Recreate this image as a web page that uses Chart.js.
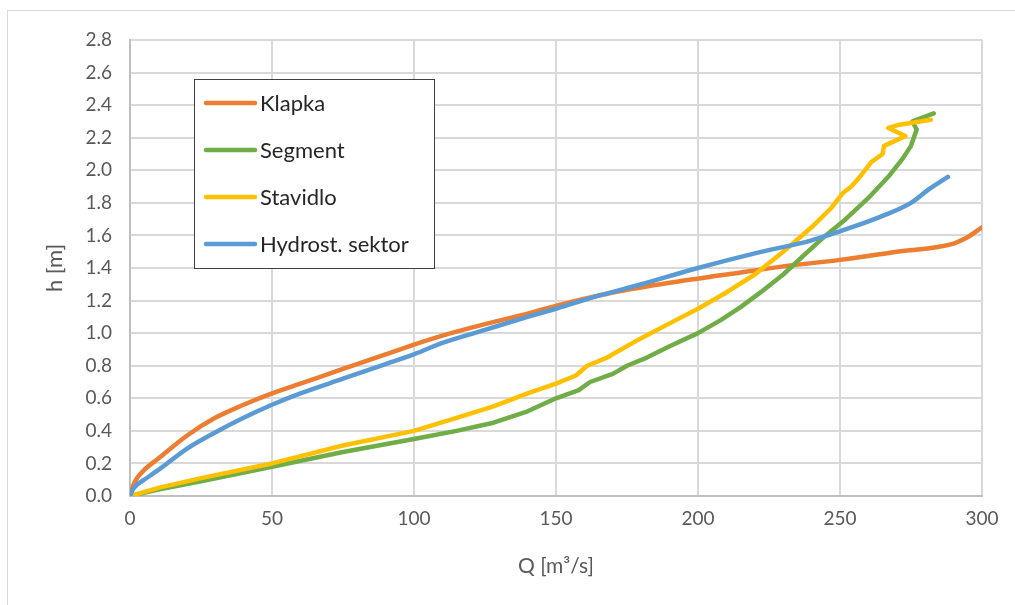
<!DOCTYPE html>
<html>
<head>
<meta charset="utf-8">
<script src="https://cdn.jsdelivr.net/npm/chart.js@4/dist/chart.umd.min.js"></script>
<style>
  html, body { margin: 0; padding: 0; background: #fff; }
  #wrap { width: 1015px; height: 605px; position: relative; }
</style>
</head>
<body>
<div id="wrap"><canvas id="myChart" width="1015" height="605"></canvas></div>
<script>
// values: Q [m3/s] and h [m] for each gate type
const seriesNames = ['Klapka', 'Segment', 'Stavidlo', 'Hydrost. sektor'];

const qKlapka = [0, 1, 2.5, 5, 10, 20, 30, 40, 50, 60, 75, 90, 100, 110, 125, 140, 155, 170, 190, 210, 230, 250, 270, 290, 295, 300];
const hKlapka = [0, 0.06, 0.11, 0.16, 0.23, 0.37, 0.48, 0.56, 0.63, 0.69, 0.78, 0.87, 0.93, 0.985, 1.055, 1.12, 1.19, 1.25, 1.31, 1.36, 1.41, 1.45, 1.50, 1.55, 1.59, 1.65];

const qSegment = [0, 10, 25, 50, 75, 100, 115, 128, 140, 150, 158, 162, 170, 175, 182, 190, 200, 208, 215, 222, 230, 238, 245, 252, 260, 267, 272, 275, 277, 275.5, 283];
const hSegment = [0, 0.04, 0.09, 0.18, 0.27, 0.35, 0.40, 0.45, 0.52, 0.6, 0.65, 0.70, 0.75, 0.8, 0.85, 0.92, 1.0, 1.08, 1.16, 1.25, 1.36, 1.49, 1.6, 1.7, 1.83, 1.96, 2.07, 2.15, 2.25, 2.3, 2.35];

const qStavidlo = [0, 10, 25, 50, 75, 100, 115, 128, 140, 150, 157, 161, 168, 179, 190, 200, 210, 220, 230, 240, 247, 251, 254, 257, 261, 265, 265.5, 273, 267, 271, 282];
const hStavidlo = [0, 0.05, 0.11, 0.2, 0.31, 0.4, 0.48, 0.55, 0.63, 0.69, 0.74, 0.8, 0.85, 0.96, 1.06, 1.15, 1.25, 1.36, 1.5, 1.65, 1.77, 1.86, 1.9, 1.96, 2.05, 2.1, 2.15, 2.21, 2.26, 2.28, 2.31];

const qSektor = [0, 1, 2.5, 5, 10, 20, 30, 40, 50, 60, 75, 90, 100, 110, 125, 140, 150, 165, 180, 200, 220, 240, 255, 265, 275, 281, 288];
const hSektor = [0, 0.04, 0.07, 0.10, 0.16, 0.29, 0.39, 0.48, 0.56, 0.63, 0.72, 0.81, 0.87, 0.94, 1.02, 1.1, 1.15, 1.23, 1.3, 1.4, 1.49, 1.57, 1.655, 1.72, 1.80, 1.88, 1.96];

const colors = ['#ED7D31', '#70AD47', '#FFC000', '#5B9BD5'];

function pts(xs, ys) {
    return xs.map((x, i) => ({x: x, y: ys[i]}));
}

const FONT = 'Lato, "Open Sans", sans-serif';

// legend box + outer frame, drawn by hand like the excel one
const frameAndLegend = {
    id: 'frameAndLegend',
    afterDraw(chart) {
        const ctx = chart.ctx;
        ctx.save();
        ctx.strokeStyle = '#d9d9d9';
        ctx.lineWidth = 1;
        ctx.strokeRect(7.5, 10.5, 1100, 700);

        ctx.fillStyle = '#fff';
        ctx.fillRect(194, 79, 240, 189);
        ctx.strokeStyle = '#404040';
        ctx.strokeRect(194.5, 79.5, 240, 189);

        ctx.font = '22px ' + FONT;
        ctx.textBaseline = 'middle';
        ctx.lineCap = 'round';
        chart.data.datasets.forEach((ds, i) => {
            const y = 103 + i * 47;
            ctx.strokeStyle = ds.borderColor;
            ctx.lineWidth = 4.5;
            ctx.beginPath();
            ctx.moveTo(206, y);
            ctx.lineTo(255, y);
            ctx.stroke();
            ctx.fillStyle = '#262626';
            ctx.fillText(ds.label, 260, y + 1);
        });
        ctx.restore();
    }
};

const smooth = {cubicInterpolationMode: 'monotone'};

const ctx = document.getElementById('myChart');
new Chart(ctx, {
    type: 'scatter',
    data: {
        datasets: [
            Object.assign({label: seriesNames[0], data: pts(qKlapka, hKlapka), borderColor: colors[0], order: 4}, smooth),
            {label: seriesNames[1], data: pts(qSegment, hSegment), borderColor: colors[1], order: 3},
            {label: seriesNames[2], data: pts(qStavidlo, hStavidlo), borderColor: colors[2], order: 2},
            Object.assign({label: seriesNames[3], data: pts(qSektor, hSektor), borderColor: colors[3], order: 1}, smooth)
        ].map(d => Object.assign(d, {
            showLine: true, pointRadius: 0, borderWidth: 4.5,
            borderJoinStyle: 'round', borderCapStyle: 'round', backgroundColor: d.borderColor
        }))
    },
    options: {
        responsive: false,
        animation: false,
        layout: {padding: {top: 40, right: 33, left: 0, bottom: 0}},
        plugins: {legend: {display: false}, tooltip: {enabled: false}},
        scales: {
            x: {
                type: 'linear', min: 0, max: 300,
                afterFit: s => { s.height = 109; },
                ticks: {stepSize: 50, padding: 11, color: '#595959', font: {family: FONT, size: 19}},
                grid: {color: '#d9d9d9', lineWidth: 2, drawTicks: false},
                border: {color: '#bfbfbf', width: 2},
                title: {display: true, text: 'Q [m³/s]', color: '#595959', font: {family: FONT, size: 21}, padding: {top: 0, bottom: 26}}
            },
            y: {
                type: 'linear', min: 0, max: 2.8,
                afterFit: s => { s.width = 130; },
                ticks: {stepSize: 0.2, padding: 18, color: '#595959', font: {family: FONT, size: 19},
                    callback: v => v.toFixed(1)},
                grid: {color: '#d9d9d9', lineWidth: 2, drawTicks: false},
                border: {color: '#bfbfbf', width: 2},
                title: {display: true, text: 'h [m]', color: '#595959', font: {family: FONT, size: 22}, padding: {top: 42, bottom: 0}}
            }
        }
    },
    plugins: [frameAndLegend]
});
</script>
</body>
</html>
